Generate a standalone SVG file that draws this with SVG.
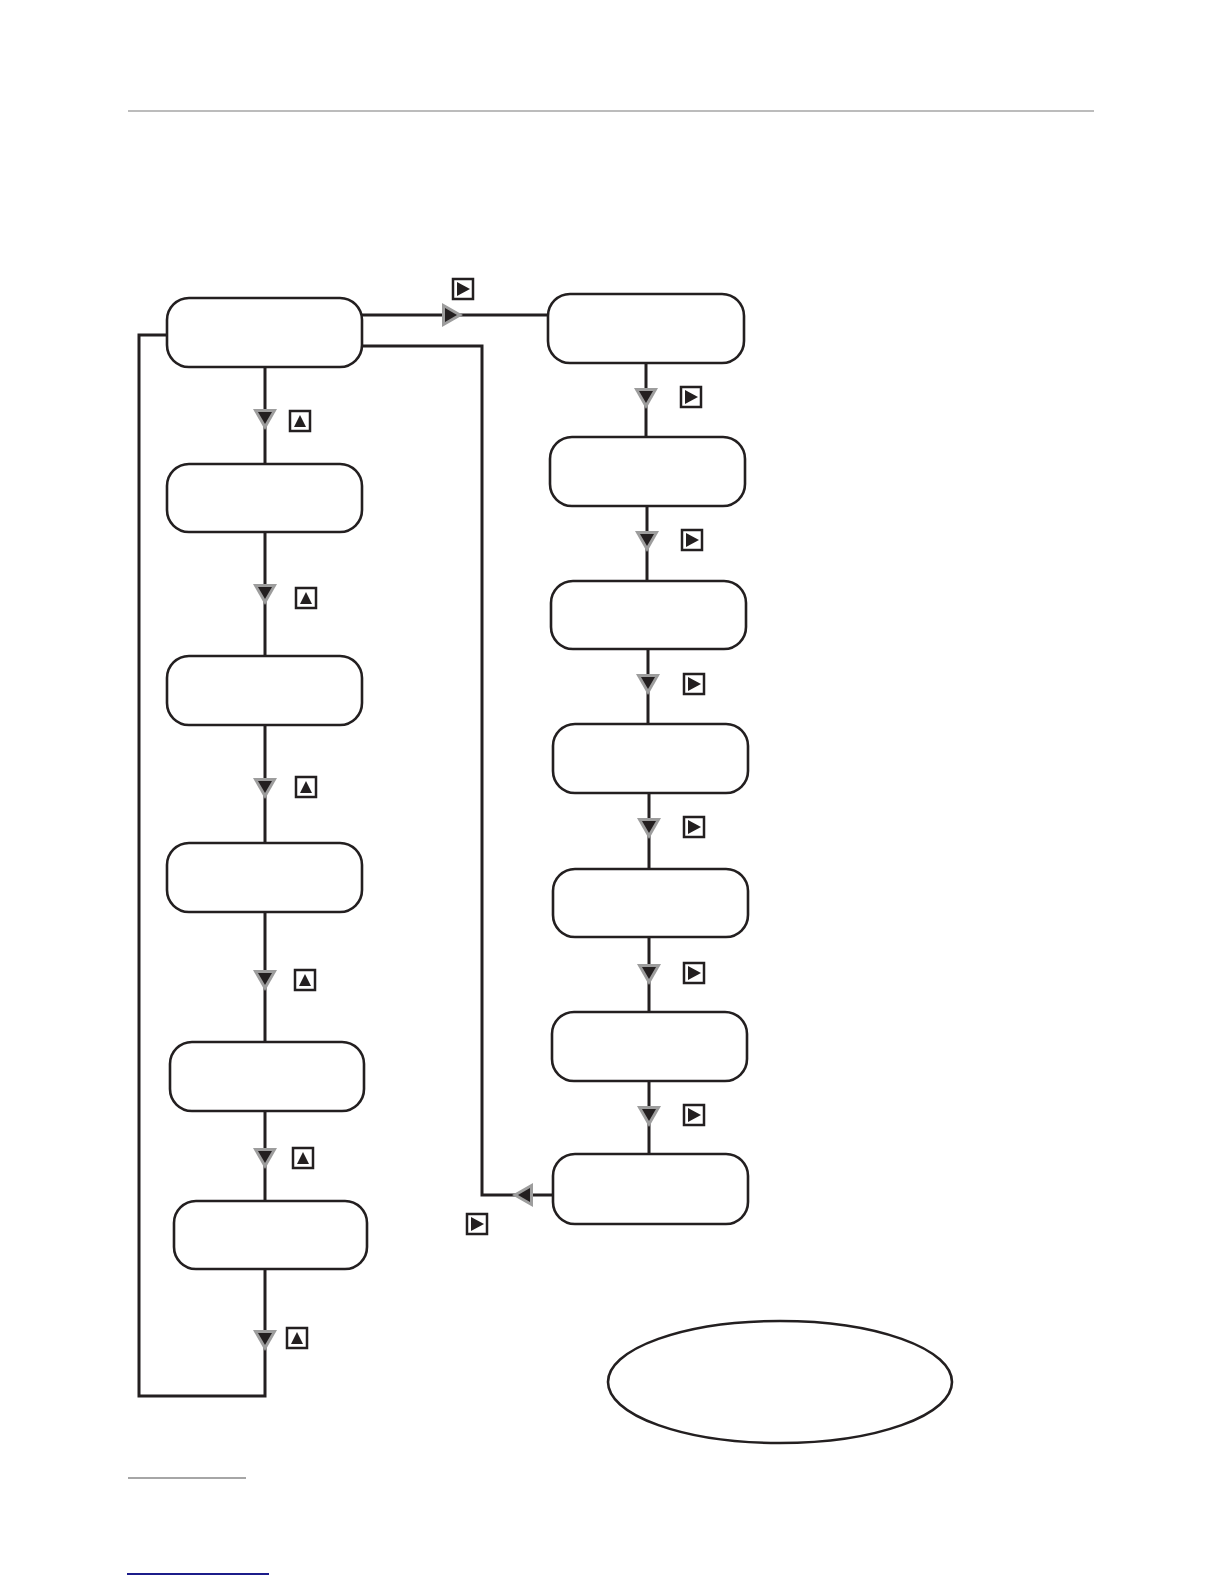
<svg xmlns="http://www.w3.org/2000/svg" xmlns:xlink="http://www.w3.org/1999/xlink" width="1224" height="1584" viewBox="0 0 1224 1584">
<style>
.node{fill:#fff;stroke:#231f20;stroke-width:2.6}
.wire{fill:none;stroke:#231f20;stroke-width:3}
.ah-o{fill:#9d9d9d}
.ah-i{fill:#231f20}
.key{fill:#fff;stroke:#231f20;stroke-width:2.5}
.keyg{fill:#231f20}
</style>
<defs>
<g id="adown"><polygon class="ah-o" points="-12,-9 12,-9 0,12"/><polygon class="ah-i" points="-7,-6 7,-6 0,6"/></g>
<g id="aright"><polygon class="ah-o" points="-9,-12 -9,12 12,0"/><polygon class="ah-i" points="-6,-7 -6,7 6,0"/></g>
<g id="aleft"><polygon class="ah-o" points="9,-12 9,12 -12,0"/><polygon class="ah-i" points="6,-7 6,7 -6,0"/></g>
<g id="kup"><rect class="key" x="-10" y="-10" width="20" height="20"/><polygon class="keyg" points="-6,6 6,6 0,-6"/></g>
<g id="kright"><rect class="key" x="-10" y="-10" width="20" height="20"/><polygon class="keyg" points="-6,-7 -6,7 7,0"/></g>
</defs>
<rect width="1224" height="1584" fill="#fff"/>
<line x1="128" y1="111" x2="1094" y2="111" stroke="#a6a6a6" stroke-width="1.5"/>
<line x1="128" y1="1478" x2="246" y2="1478" stroke="#a6a6a6" stroke-width="2"/>
<line x1="127" y1="1574" x2="269" y2="1574" stroke="#1c1c8a" stroke-width="2"/>

<g id="connectors">
<path class="wire" d="M362,315 H548"/>
<path class="wire" d="M362,346 H482 V1195 H553"/>
<path class="wire" d="M167,335 H139 V1396 H265 V1269"/>
<path class="wire" d="M265,367 V464 M265,531 V656 M265,725 V843 M265,912 V1042 M265,1111 V1201"/>
<path class="wire" d="M646,363 V437 M647,506 V581 M648,649 V724 M649,793 V869 M649,937 V1012 M649,1081 V1154"/>
<use href="#aright" x="451" y="315"/>
<use href="#aleft" x="524" y="1195"/>
<use href="#adown" x="265" y="418"/>
<use href="#adown" x="265" y="593"/>
<use href="#adown" x="265" y="787"/>
<use href="#adown" x="265" y="979"/>
<use href="#adown" x="265" y="1157"/>
<use href="#adown" x="265" y="1339"/>
<use href="#adown" x="646" y="397"/>
<use href="#adown" x="647" y="540"/>
<use href="#adown" x="648" y="683"/>
<use href="#adown" x="649" y="827"/>
<use href="#adown" x="649" y="973"/>
<use href="#adown" x="649" y="1115"/>
<use href="#kright" x="463" y="289"/>
<use href="#kright" x="477" y="1224"/>
<use href="#kup" x="300" y="421"/>
<use href="#kup" x="306" y="598"/>
<use href="#kup" x="306" y="787"/>
<use href="#kup" x="305" y="980"/>
<use href="#kup" x="303" y="1158"/>
<use href="#kup" x="297" y="1338"/>
<use href="#kright" x="691" y="397"/>
<use href="#kright" x="692" y="540"/>
<use href="#kright" x="694" y="684"/>
<use href="#kright" x="694" y="827"/>
<use href="#kright" x="694" y="973"/>
<use href="#kright" x="694" y="1115"/>
</g>

<g id="L1"><rect class="node" x="167" y="298" width="195" height="69" rx="22"/></g>
<g id="L2"><rect class="node" x="167" y="464" width="195" height="68" rx="22"/></g>
<g id="L3"><rect class="node" x="167" y="656" width="195" height="69" rx="22"/></g>
<g id="L4"><rect class="node" x="167" y="843" width="195" height="69" rx="22"/></g>
<g id="L5"><rect class="node" x="170" y="1042" width="194" height="69" rx="22"/></g>
<g id="L6"><rect class="node" x="174" y="1201" width="193" height="68" rx="22"/></g>
<g id="R1"><rect class="node" x="548" y="294" width="196" height="69" rx="22"/></g>
<g id="R2"><rect class="node" x="550" y="437" width="195" height="69" rx="22"/></g>
<g id="R3"><rect class="node" x="551" y="581" width="195" height="68" rx="22"/></g>
<g id="R4"><rect class="node" x="553" y="724" width="195" height="69" rx="22"/></g>
<g id="R5"><rect class="node" x="553" y="869" width="195" height="68" rx="22"/></g>
<g id="R6"><rect class="node" x="552" y="1012" width="195" height="69" rx="22"/></g>
<g id="R7"><rect class="node" x="553" y="1154" width="195" height="70" rx="22"/></g>
<g id="E1"><ellipse class="node" cx="780" cy="1382" rx="172" ry="61"/></g>
</svg>
